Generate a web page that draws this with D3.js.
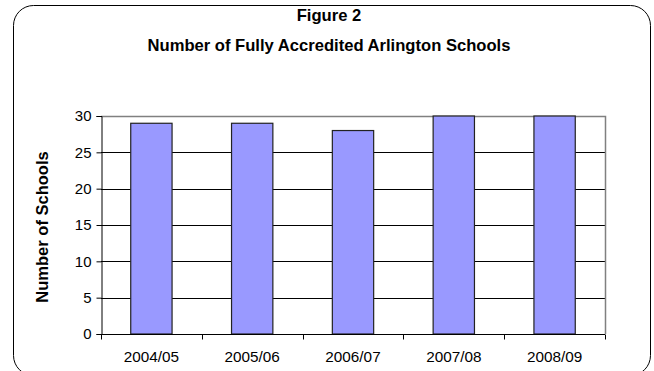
<!DOCTYPE html>
<html><head><meta charset="utf-8">
<script src="https://cdn.jsdelivr.net/npm/d3@7"></script>
<style>body{margin:0;background:#fff}svg{display:block}text{font-family:Arial,"Liberation Sans",sans-serif}</style>
</head><body><svg id="c" width="654" height="371"></svg>
<script>
const categories = ["2004/05","2005/06","2006/07","2007/08","2008/09"];
const schools = [29, 29, 28, 30, 30];
const yTicks = [0,5,10,15,20,25,30];
const titleLines = ["Figure 2","Number of Fully Accredited Arlington Schools"];
const yTitle = "Number of Schools";

const svg = d3.select("#c");
svg.append("rect").attr("x",13.5).attr("y",5.5).attr("width",637).attr("height",370)
  .attr("rx",20).attr("fill","#fff").attr("stroke","#000").attr("stroke-width",1);

const L=101, R=605, T=116, B=334;
const x = d3.scaleBand().domain(categories).range([L,R]).paddingInner(0.59).paddingOuter(0.295);
const y = d3.scaleLinear().domain([0,30]).range([B,T]);

// gridlines
svg.append("g").selectAll("line").data(yTicks.filter(v=>v>0&&v<30)).join("line")
  .attr("x1",L).attr("x2",R).attr("y1",d=>Math.round(y(d))+0.5).attr("y2",d=>Math.round(y(d))+0.5)
  .attr("stroke","#000").attr("stroke-width",1);
// plot border top/right
svg.append("path").attr("d",`M${L},${T+0.5}H${R+0.5}V${B}`).attr("fill","none").attr("stroke","#808080").attr("stroke-width",1.5);

// bars
svg.append("g").selectAll("rect").data(schools).join("rect")
  .attr("x",(d,i)=>x(categories[i])).attr("width",x.bandwidth())
  .attr("y",d=>y(d)).attr("height",d=>B-y(d))
  .attr("fill","#9999FF").attr("stroke","#222").attr("stroke-width",1.2);

// y axis
const ya = svg.append("g").attr("transform",`translate(${L+0.5},0)`)
  .call(d3.axisLeft(y).tickValues(yTicks).tickSize(5).tickPadding(5));
ya.select(".domain").attr("stroke","#000");
ya.selectAll("text").attr("font-size",15).attr("fill","#000").attr("font-family","Arial, 'Liberation Sans', sans-serif");

// x axis
const xa = svg.append("g").attr("transform",`translate(0,${B+0.5})`);
xa.append("line").attr("x1",L).attr("x2",R).attr("stroke","#000");
const bounds = d3.range(categories.length+1).map(i=>L+i*x.step());
xa.selectAll("line.t").data(bounds).join("line").attr("class","t")
  .attr("x1",d=>Math.round(d)+0.5).attr("x2",d=>Math.round(d)+0.5).attr("y1",0).attr("y2",5).attr("stroke","#000");
xa.selectAll("text").data(categories).join("text")
  .attr("x",d=>x(d)+x.bandwidth()/2).attr("y",27.5).attr("text-anchor","middle")
  .attr("font-size",15.3).text(d=>d);

// titles
svg.selectAll("text.title").data(titleLines).join("text").attr("class","title")
  .attr("x",329).attr("y",(d,i)=>21+i*30).attr("text-anchor","middle")
  .attr("font-size",16.6).attr("font-weight","bold").text(d=>d);

svg.append("text").attr("transform",`translate(48,${(T+B)/2+2}) rotate(-90)`)
  .attr("text-anchor","middle").attr("font-size",16.5).attr("font-weight","bold").text(yTitle);
</script></body></html>
